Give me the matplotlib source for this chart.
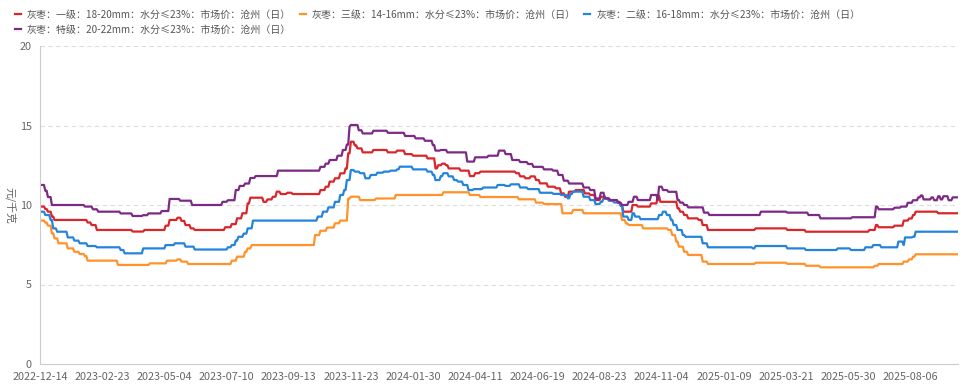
import numpy as np
import matplotlib.pyplot as plt

plt.rcParams['font.family'] = ['Noto Sans CJK SC', 'DejaVu Sans']

# trading-day index on which each price level starts, and the price (元/千克)
n_days = 695
tick_step = 47
tick_labels = ['2022-12-14', '2023-02-23', '2023-05-04', '2023-07-10', '2023-09-13',
               '2023-11-23', '2024-01-30', '2024-04-11', '2024-06-19', '2024-08-23',
               '2024-11-04', '2025-01-09', '2025-03-21', '2025-05-30', '2025-08-06']

names = ['灰枣：一级：18-20mm：水分≤23%：市场价：沧州（日）',
         '灰枣：三级：14-16mm：水分≤23%：市场价：沧州（日）',
         '灰枣：二级：16-18mm：水分≤23%：市场价：沧州（日）',
         '灰枣：特级：20-22mm：水分≤23%：市场价：沧州（日）']

grade1_day = [0, 4, 6, 9, 11, 36, 39, 43, 70, 79, 95, 98, 104, 107, 110, 114, 117, 140, 145, 149,
              153, 157, 159, 169, 172, 176, 179, 182, 187, 191, 212, 216, 219, 223, 227, 231, 233,
              235, 238, 240, 244, 252, 263, 270, 276, 282, 293, 299, 301, 304, 307, 309, 318, 325,
              329, 333, 360, 363, 367, 371, 375, 378, 384, 390, 394, 397, 400, 405, 412, 416, 420,
              424, 428, 431, 437, 439, 441, 448, 452, 462, 467, 469, 482, 484, 487, 490, 498, 501,
              505, 541, 565, 579, 627, 632, 634, 646, 653, 657, 660, 662, 679]
grade1_val = [9.9, 9.75, 9.58, 9.27, 9.06, 8.9, 8.74, 8.43, 8.33, 8.43, 8.7, 9.06, 9.2, 9.0, 8.74,
              8.53, 8.43, 8.6, 8.8, 9.16, 9.48, 10.1, 10.46, 10.2, 10.35, 10.52, 10.84, 10.69, 10.77,
              10.69, 10.94, 11.15, 11.47, 11.68, 11.99, 12.3, 13.25, 13.98, 13.75, 13.56, 13.31,
              13.46, 13.31, 13.42, 13.2, 13.1, 12.93, 12.3, 12.5, 12.6, 12.5, 12.3, 12.16, 11.82,
              12.0, 12.1, 12.0, 11.8, 11.68, 11.8, 11.57, 11.36, 11.15, 11.05, 10.73, 10.52, 10.84,
              10.94, 10.73, 10.63, 10.31, 10.52, 10.41, 10.31, 10.2, 10.0, 9.58, 10.0, 9.9, 10.1,
              10.57, 10.2, 9.79, 9.58, 9.37, 9.16, 9.06, 8.74, 8.43, 8.53, 8.43, 8.32, 8.43, 8.74,
              8.6, 8.7, 9.02, 9.15, 9.37, 9.58, 9.48]

grade3_day = [0, 4, 6, 9, 11, 14, 21, 26, 30, 34, 36, 59, 83, 96, 104, 107, 112, 145, 149, 155,
              157, 160, 208, 212, 217, 223, 227, 233, 235, 242, 254, 269, 305, 325, 333, 362, 375,
              381, 395, 403, 411, 440, 443, 445, 456, 475, 478, 481, 483, 487, 490, 501, 505, 541,
              565, 579, 590, 631, 634, 653, 657, 660, 662]
grade3_val = [9.02, 8.9, 8.7, 8.22, 7.9, 7.59, 7.27, 7.06, 6.92, 6.79, 6.5, 6.23, 6.33, 6.5, 6.58,
              6.44, 6.29, 6.5, 6.75, 7.06, 7.27, 7.48, 8.11, 8.38, 8.58, 8.85, 9.02, 10.41, 10.52,
              10.31, 10.41, 10.63, 10.8, 10.63, 10.5, 10.36, 10.15, 10.06, 9.48, 9.69, 9.48, 9.06,
              8.84, 8.74, 8.53, 8.43, 8.11, 7.7, 7.38, 7.06, 6.86, 6.44, 6.29, 6.37, 6.3, 6.18,
              6.08, 6.18, 6.29, 6.44, 6.58, 6.75, 6.9]

grade2_day = [0, 4, 8, 10, 13, 21, 26, 30, 36, 43, 61, 64, 78, 95, 102, 110, 117, 142, 145, 148,
              150, 154, 157, 161, 210, 214, 218, 223, 227, 230, 232, 235, 238, 242, 246, 250, 255,
              260, 265, 270, 272, 282, 293, 297, 299, 303, 305, 309, 313, 316, 320, 324, 328, 335,
              346, 352, 356, 363, 369, 378, 388, 394, 399, 401, 403, 411, 416, 420, 424, 426, 430,
              434, 439, 441, 445, 448, 450, 454, 468, 471, 474, 477, 479, 482, 486, 488, 501, 505,
              539, 541, 565, 579, 603, 613, 624, 630, 636, 649, 653, 654, 660, 662]
grade2_val = [9.58, 9.37, 9.06, 8.53, 8.32, 7.96, 7.76, 7.59, 7.42, 7.34, 7.17, 6.96, 7.27, 7.48,
              7.59, 7.38, 7.2, 7.34, 7.48, 7.76, 8.0, 8.2, 8.53, 9.02, 9.27, 9.58, 9.85, 10.2, 10.63,
              10.94, 11.57, 12.2, 12.1, 12.0, 11.68, 11.89, 12.03, 12.1, 12.16, 12.24, 12.41, 12.24,
              12.1, 11.89, 11.57, 11.82, 12.0, 11.8, 11.57, 11.47, 11.26, 10.94, 11.0, 11.1, 11.26,
              11.2, 11.3, 11.1, 11.0, 10.77, 10.7, 10.63, 10.42, 10.69, 10.84, 10.52, 10.31, 10.06,
              10.2, 10.42, 10.27, 10.16, 9.94, 9.27, 9.06, 9.48, 9.27, 9.11, 9.37, 9.58, 9.37, 9.06,
              8.74, 8.43, 8.11, 8.0, 7.59, 7.34, 7.27, 7.42, 7.27, 7.17, 7.27, 7.17, 7.34, 7.48,
              7.34, 7.7, 7.48, 7.96, 8.0, 8.32]

special_day = [0, 4, 6, 9, 34, 40, 44, 61, 70, 78, 82, 92, 98, 106, 115, 138, 142, 148, 151, 155,
               159, 163, 180, 212, 216, 219, 225, 229, 232, 234, 235, 241, 244, 252, 263, 276, 284,
               291, 297, 299, 303, 308, 323, 329, 339, 347, 352, 357, 363, 369, 373, 381, 388, 392,
               396, 400, 411, 416, 420, 424, 427, 431, 437, 440, 445, 449, 452, 462, 467, 468, 471,
               475, 482, 484, 487, 490, 502, 506, 545, 565, 581, 590, 614, 632, 634, 646, 651, 656,
               660, 664, 666, 668, 674, 676, 679, 681, 683, 687, 690]
special_val = [11.26, 10.9, 10.5, 10.0, 9.9, 9.73, 9.58, 9.47, 9.31, 9.36, 9.47, 9.62, 10.38, 10.27,
               10.0, 10.2, 10.3, 10.94, 11.2, 11.35, 11.7, 11.82, 12.16, 12.4, 12.6, 12.83, 13.1,
               13.46, 13.8, 14.92, 15.03, 14.7, 14.5, 14.67, 14.54, 14.34, 14.19, 14.04, 13.77,
               13.42, 13.46, 13.31, 12.73, 13.0, 13.1, 13.42, 13.2, 12.83, 12.7, 12.58, 12.4, 12.24,
               12.16, 11.89, 11.53, 11.35, 11.1, 10.94, 10.41, 10.77, 10.41, 10.31, 10.14, 10.0,
               10.2, 10.52, 10.31, 10.63, 10.3, 11.15, 10.94, 10.83, 10.31, 10.15, 10.0, 9.85, 9.52,
               9.37, 9.58, 9.52, 9.37, 9.16, 9.23, 9.9, 9.73, 9.83, 9.9, 10.14, 10.3, 10.48, 10.6,
               10.35, 10.48, 10.3, 10.55, 10.35, 10.55, 10.3, 10.48]

colors = ['#d9262b', '#ff922b', '#2484dc', '#7d2a86']


def daily(days, vals):
    runs = np.diff(days + [n_days])
    return np.repeat(vals, runs)


x = np.arange(n_days)
series = [daily(grade1_day, grade1_val), daily(grade3_day, grade3_val),
          daily(grade2_day, grade2_val), daily(special_day, special_val)]

fig = plt.figure(figsize=(9.66, 3.9), dpi=100)
ax = fig.add_axes([40 / 966, 26 / 390, 918 / 966, 318 / 390])

lines = []
for y, c in zip(series, colors):
    ln, = ax.plot(x, y, color=c, lw=1.6)
    lines.append(ln)

ax.set_xlim(0, n_days - 1)
ax.set_ylim(0, 20)
ax.set_yticks([0, 5, 10, 15, 20])
ax.set_xticks(np.arange(len(tick_labels)) * tick_step)
ax.set_xticklabels(tick_labels)
ax.tick_params(length=0, labelsize=7.8, colors='#666666', pad=6)
ax.grid(axis='y', color='#dddddd', linestyle=(0, (4, 3)), lw=0.8)
for s in ['top', 'right']:
    ax.spines[s].set_visible(False)
ax.spines['left'].set_color('#cccccc')
ax.spines['bottom'].set_color('#cccccc')
ax.set_ylabel('元/千克', rotation=270, color='#666666', fontsize=7.8, va='center', ha='center')
ax.yaxis.set_label_coords(-0.032, 0.5)

# legend: red, orange, blue on the first row, purple on the second
order = [0, 3, 1, 2]
leg = fig.legend([lines[i] for i in order], [names[i] for i in order], ncol=3,
                 loc='upper left', bbox_to_anchor=(0.006, 0.998), frameon=False,
                 fontsize=7.2, handlelength=0.6, handletextpad=0.6, columnspacing=0.85,
                 labelspacing=0.5, labelcolor='#555555')

fig.savefig('out.png', dpi=100)
